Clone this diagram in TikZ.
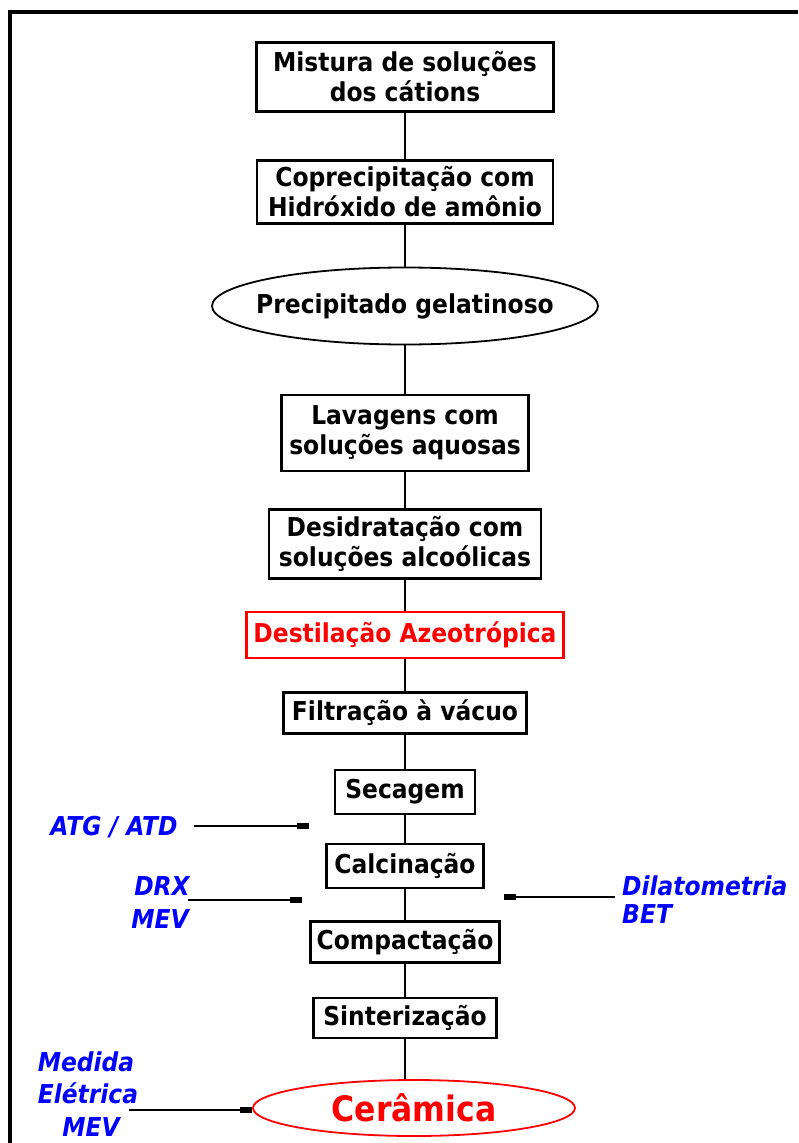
\documentclass[tikz,border=0pt]{standalone}
\usepackage{fontspec}
\setmainfont{DejaVu Sans}[FakeStretch=0.9]
\usetikzlibrary{positioning}
\usetikzlibrary{shapes.geometric,arrows.meta}

\tikzset{
  etapa/.style={draw, line width=2.2pt, align=center, inner sep=0pt,
    font=\fontsize{26}{30}\selectfont\bfseries},
  oval/.style={etapa, ellipse, line width=1.8pt},
  ensaio/.style={text=blue, inner sep=0pt, align=center,
    font=\fontsize{26}{30}\selectfont\bfseries\itshape},
  seta/.style={line width=2pt, -{Rectangle[length=12pt,width=6pt]}},
  liga/.style={line width=2pt}
}

\begin{document}
\begin{tikzpicture}[x=1pt,y=-1pt]
\useasboundingbox (0,0) rectangle (798,1143);
% moldura
\draw[line width=4.5pt] (10,1143) -- (10,12) -- (798,12);

% etapas do processo
\node[etapa, minimum width=297pt, minimum height=69pt] (mist) at (405,77) {Mistura de soluções\\dos cátions};
\node[etapa, minimum width=296pt, minimum height=63pt] (copr) at (405,192) {Coprecipitação com\\Hidróxido de amônio};
\node[oval, inner xsep=-14pt, minimum width=386pt, minimum height=77pt] (prec) at (405,306) {Precipitado gelatinoso};
\node[etapa, minimum width=247pt, minimum height=76pt] (lav) at (405,433) {Lavagens com\\soluções aquosas};
\node[etapa, minimum width=272pt, minimum height=69pt] (desid) at (405,544) {Desidratação com\\soluções alcoólicas};
\node[etapa, draw=red, text=red, minimum width=317pt, minimum height=46pt] (dest) at (405,635) {Destilação Azeotrópica};
\node[etapa, minimum width=243pt, minimum height=41pt] (filt) at (405,713) {Filtração à vácuo};
\node[etapa, minimum width=140pt, minimum height=44pt] (sec) at (405,792) {Secagem};
\node[etapa, minimum width=157pt, minimum height=44pt] (calc) at (405,866) {Calcinação};
\node[etapa, minimum width=189pt, minimum height=41pt] (comp) at (405,942) {Compactação};
\node[etapa, minimum width=183pt, minimum height=40pt] (sint) at (405,1018) {Sinterização};
\node[oval, draw=red, text=red, font=\fontsize{35}{40}\selectfont\bfseries,
  minimum width=322pt, minimum height=56pt] (cer) at (414,1108) {Cerâmica};

% ligacoes
\draw[liga] (mist) -- (copr);
\draw[liga] (copr) -- (prec);
\draw[liga] (prec) -- (lav);
\draw[liga] (lav) -- (desid);
\draw[liga] (desid) -- (dest);
\draw[liga] (dest) -- (filt);
\draw[liga] (filt) -- (sec);
\draw[liga] (sec) -- (calc);
\draw[liga] (calc) -- (comp);
\draw[liga] (comp) -- (sint);
\draw[liga] (sint.south) -- (sint.south |- cer.north);

% caracterizacoes
\node[ensaio] (atg) at (114,827) {ATG / ATD};
\coordinate (atgini) at (194,826);
\coordinate (atgfim) at (309,826);
\draw[seta] (atgini) -- (atgfim);

\node[ensaio] (drx) at (162,886) {DRX};
\node[ensaio] (mev1) at (160,919) {MEV};
\coordinate (drxini) at (188,900);
\coordinate (drxfim) at (302,900);
\draw[seta] (drxini) -- (drxfim);

\node[ensaio, anchor=west] (dil) at (622,886) {Dilatometria};
\node[ensaio, anchor=west] (bet) at (622,914) {BET};
\coordinate (dilini) at (615,897);
\coordinate (dilfim) at (504,897);
\draw[seta] (dilini) -- (dilfim);

\node[ensaio] (med) at (86,1062) {Medida};
\node[ensaio] (ele) at (88,1093) {Elétrica};
\node[ensaio] (mev2) at (91,1127) {MEV};
\coordinate (medini) at (129,1110);
\draw[seta] (medini) -- (medini -| cer.west);
\end{tikzpicture}
\end{document}
